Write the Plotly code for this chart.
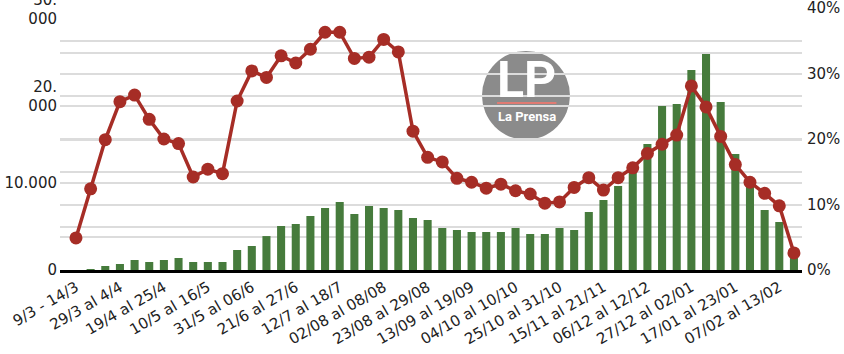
import plotly.graph_objects as go

weeks = [
    "9/3 - 14/3", "15/3 al 21/3", "22/3 al 28/3", "29/3 al 4/4", "5/4 al 11/4",
    "12/4 al 18/4", "19/4 al 25/4", "26/4 al 2/5", "3/5 al 9/5", "10/5 al 16/5",
    "17/5 al 23/5", "24/5 al 30/5", "31/5 al 06/6", "07/6 al 13/6", "14/6 al 20/6",
    "21/6 al 27/6", "28/6 al 04/7", "05/7 al 11/7", "12/7 al 18/7", "19/7 al 25/7",
    "26/7 al 01/08", "02/08 al 08/08", "09/08 al 15/08", "16/08 al 22/08", "23/08 al 29/08",
    "30/08 al 05/09", "06/09 al 12/09", "13/09 al 19/09", "20/09 al 26/09", "27/09 al 03/10",
    "04/10 al 10/10", "11/10 al 17/10", "18/10 al 24/10", "25/10 al 31/10", "01/11 al 07/11",
    "08/11 al 14/11", "15/11 al 21/11", "22/11 al 28/11", "29/11 al 05/12", "06/12 al 12/12",
    "13/12 al 19/12", "20/12 al 26/12", "27/12 al 02/01", "03/01 al 09/01", "10/01 al 16/01",
    "17/01 al 23/01", "24/01 al 30/01", "31/01 al 06/02", "07/02 al 13/02", "14/02 al 20/02",
]

cases = [
    0, 60, 460, 690, 1150, 920, 1150, 1380, 920, 920,
    920, 2300, 2760, 3900, 5060, 5290, 6210, 7130, 7820, 6440,
    7360, 7130, 6900, 5980, 5750, 4830, 4600, 4370, 4370, 4370,
    4830, 4140, 4140, 4830, 4600, 6670, 8050, 9660, 12200, 14490,
    18860, 19090, 23000, 24840, 19320, 13340, 10500, 6900, 5520, 1700,
]

positivity = [
    4.9, 12.4, 19.9, 25.7, 26.7, 23.0, 20.0, 19.3, 14.2, 15.4,
    14.7, 25.8, 30.4, 29.4, 32.7, 31.6, 33.7, 36.3, 36.3, 32.3,
    32.5, 35.2, 33.3, 21.2, 17.2, 16.5, 14.0, 13.4, 12.5, 13.1,
    12.1, 11.6, 10.2, 10.4, 12.6, 14.1, 12.2, 14.1, 15.6, 17.8,
    19.2, 20.6, 28.1, 24.9, 20.4, 16.1, 13.4, 11.7, 9.8, 2.6,
]
positivity_frac = [p / 100 for p in positivity]

left_tickvals = [0, 5000, 10000, 15000, 20000, 25000, 30000]
left_ticktext = ["0", "", "10.000", "", "20.<br>000", "", "30.<br>000"]
right_tickvals = [0, 0.05, 0.10, 0.15, 0.20, 0.25, 0.30, 0.35, 0.40]
right_ticktext = ["0%", "", "10%", "", "20%", "", "30%", "", "40%"]

x_tickvals = weeks[0:49:3]

GREEN = "#467b3c"
RED = "#a62d26"
GRID = "#dcdcdc"
FONT = "DejaVu Sans"
TXT = "#222222"

fig = go.Figure()
fig.add_trace(go.Bar(x=weeks, y=cases, marker=dict(color=GREEN, line=dict(width=0)),
                     yaxis="y", name="Casos"))
fig.add_trace(go.Scatter(x=weeks, y=positivity_frac, mode="lines+markers",
                         line=dict(color=RED, width=3.5),
                         marker=dict(color=RED, size=13),
                         yaxis="y2", name="Positividad"))

# La Prensa watermark
fig.add_shape(type="circle", xref="paper", yref="paper",
              x0=0.5687, x1=0.6873, y0=0.497, y1=0.836,
              fillcolor="#8b8b8b", line=dict(width=0), layer="below")
fig.add_shape(type="line", xref="paper", yref="paper",
              x0=0.589, x1=0.669, y0=0.637, y1=0.637,
              line=dict(color="#e07b73", width=2), layer="above")
fig.add_annotation(text="<b>LP</b>", xref="paper", yref="paper", x=0.629, y=0.727,
                   showarrow=False, font=dict(family="Roboto", size=50, color="white"),
                   xanchor="center", yanchor="middle")
fig.add_annotation(text="<b>La Prensa</b>", xref="paper", yref="paper", x=0.629, y=0.585,
                   showarrow=False, font=dict(family="Roboto", size=13, color="white"),
                   xanchor="center", yanchor="middle")

fig.update_layout(
    width=844, height=354,
    margin=dict(l=60, r=42, t=8, b=84),
    paper_bgcolor="white", plot_bgcolor="white",
    showlegend=False, bargap=0.45,
    font=dict(family=FONT, color=TXT),
    xaxis=dict(type="category", range=[-1.09, 49.55], tickmode="array",
               tickvals=x_tickvals, ticktext=x_tickvals, tickangle=-30,
               tickfont=dict(size=15, family=FONT, color=TXT),
               showgrid=False, showline=True, linecolor="black", linewidth=3,
               ticks="", automargin=False, zeroline=False, ticklabeloverflow="allow"),
    yaxis=dict(range=[0, 30115], tickmode="array", tickvals=left_tickvals,
               ticktext=left_ticktext, showgrid=True, gridcolor=GRID, gridwidth=2,
               zeroline=False, ticks="", tickfont=dict(size=15, family=FONT, color=TXT),
               automargin=False, ticklabelstandoff=2, ticklabeloverflow="allow"),
    yaxis2=dict(range=[0, 0.40], overlaying="y", side="right", tickmode="array",
                tickvals=right_tickvals, ticktext=right_ticktext, showgrid=True,
                gridcolor=GRID, gridwidth=2, zeroline=False, ticks="",
                tickfont=dict(size=15, family=FONT, color=TXT),
                automargin=False, ticklabelstandoff=4, ticklabeloverflow="allow"),
)

fig.write_html("out.html")
